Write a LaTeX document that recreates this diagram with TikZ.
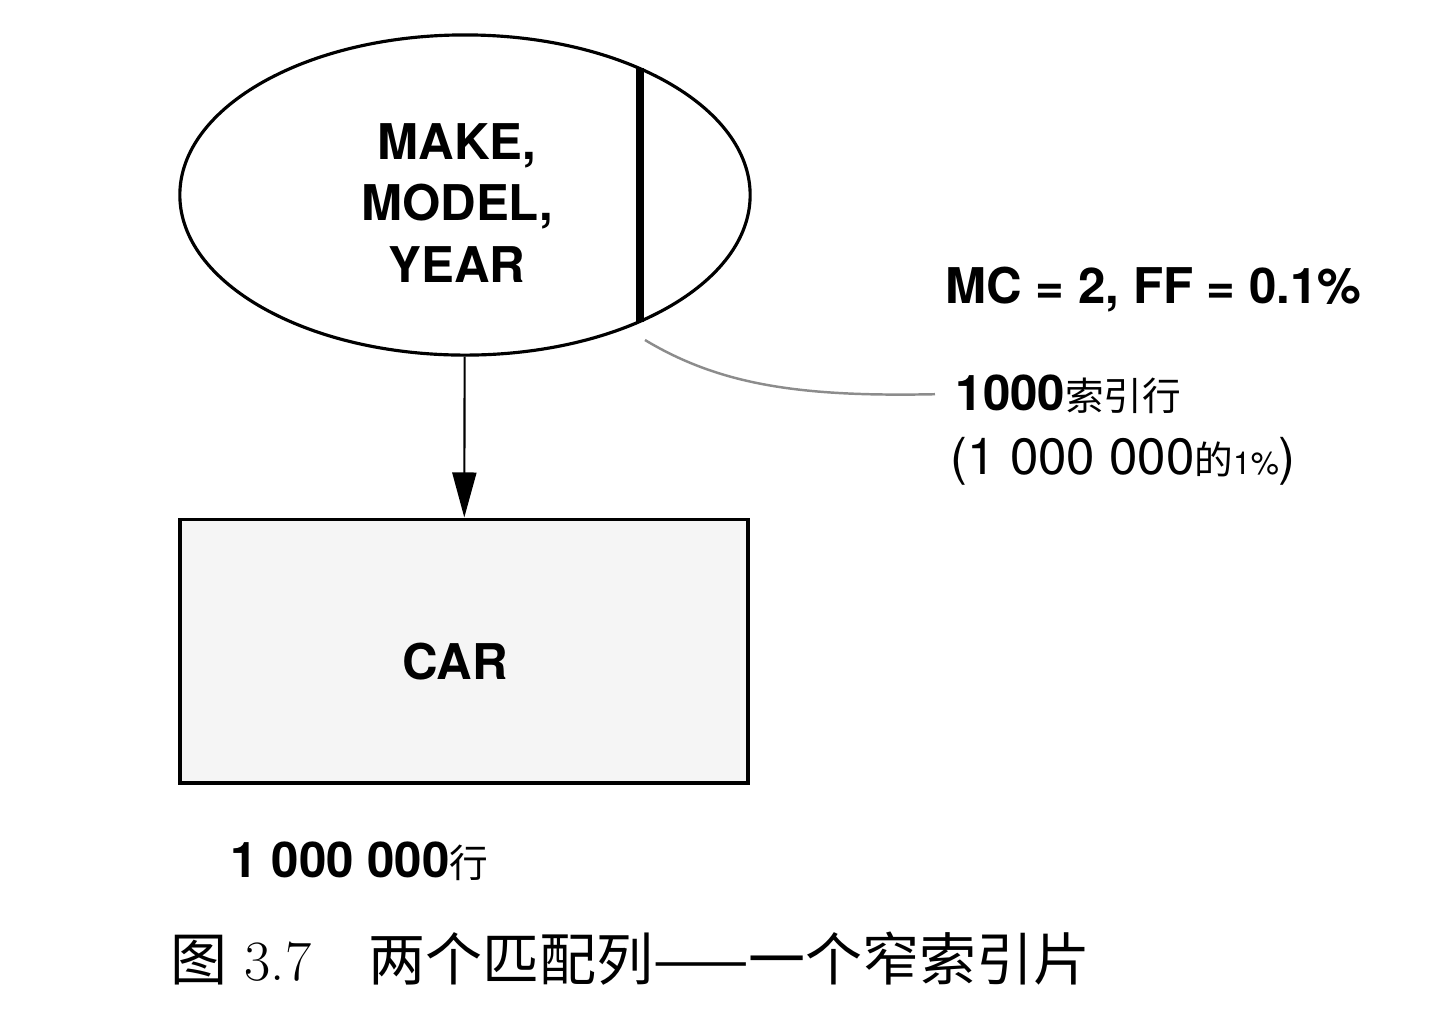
\documentclass[tikz,border=0pt]{standalone}
\usepackage{fontspec}
\setsansfont{TeX Gyre Heros}
\newfontfamily\cjk{Noto Sans CJK SC}
\usetikzlibrary{shapes.geometric,arrows.meta}

\begin{document}
\begin{tikzpicture}[x=0.01cm, y=-0.01cm, font=\sffamily\bfseries,
		n/.style={draw, line width=0.9pt},
		lbl/.style={inner sep=0pt, anchor=base west},
		big/.style={font=\sffamily\bfseries\fontsize{14}{17.4}\selectfont}]
			\useasboundingbox (0,0) rectangle (1456,1026);
			\node[n, ellipse, minimum width=5.7cm, minimum height=3.2cm] (idx) at (465,195) {};
			\node[big, align=center] (cols) at (457,203) {MAKE,\\MODEL,\\YEAR};
			\draw[line width=2pt] (640,68) -- (640,322);
			\node[n, fill=black!4, line width=1.1pt, minimum width=5.68cm, minimum height=2.63cm] (car) at (464,651) {};
			\node[big] (tbl) at (455,662) {CAR};

			\node[lbl, big] (mc) at (945,303) {MC = 2, FF = 0.1\%};
			\node[lbl, big] (rows) at (955,410) {1000{\cjk\mdseries\fontsize{11}{13}\selectfont 索引行}};
			\node[lbl, font=\sffamily\fontsize{14.5}{17}\selectfont] (pct) at (950,474) {(1 000 000{\cjk\fontsize{11}{12}\selectfont 的}{\fontsize{9}{10}\selectfont 1\%})};
			\node[lbl, big] (cnt) at (230,877) {1 000 000{\cjk\mdseries\fontsize{11}{13}\selectfont 行}};
			\node[lbl, font=\rmfamily\mdseries\fontsize{16.2}{18}\selectfont] (cap) at (170,980) {{\cjk 图}\hspace{0.3em}3.7\hspace{1em}{\cjk 两个匹配列——一个窄索引片}};

			\coordinate (tip) at (645,340);
			\draw[-{Triangle[length=4.5mm,width=2.4mm]}, line width=0.6pt] (idx) -- (car);
			\draw[black!45, line width=0.7pt, shorten >=2mm] (tip) .. controls (720,385) and (800,397) .. (rows.west);
		\end{tikzpicture}
\end{document}
